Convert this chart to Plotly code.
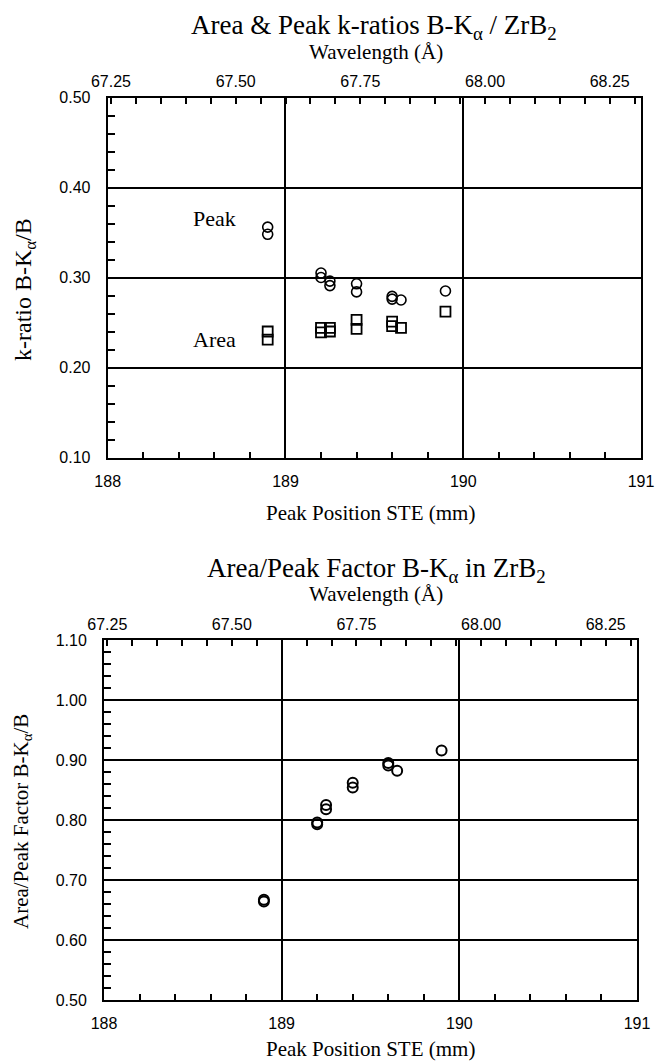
import plotly.graph_objects as go

# ---------------- data ----------------
peak_x = [188.9, 188.9, 189.2, 189.2, 189.25, 189.25, 189.4, 189.4, 189.6, 189.6, 189.65, 189.9]
peak_k = [0.356, 0.348, 0.305, 0.300, 0.296, 0.291, 0.293, 0.284, 0.279, 0.276, 0.275, 0.285]

area_x = [188.9, 188.9, 189.2, 189.2, 189.25, 189.25, 189.4, 189.4, 189.6, 189.6, 189.65, 189.9]
area_k = [0.240, 0.231, 0.244, 0.239, 0.244, 0.240, 0.253, 0.243, 0.251, 0.246, 0.244, 0.262]

factor_x = [188.9, 188.9, 189.2, 189.2, 189.25, 189.25, 189.4, 189.4, 189.6, 189.6, 189.65, 189.9]
factor_v = [0.667, 0.664, 0.796, 0.793, 0.825, 0.818, 0.862, 0.854, 0.895, 0.891, 0.882, 0.916]

ste_ticks = [188, 189, 190, 191]
ste_range = [188, 191]
wl_ticks = [67.25, 67.50, 67.75, 68.00, 68.25]
wl_range = [67.2434, 68.3128]
k_ticks = [0.10, 0.20, 0.30, 0.40, 0.50]
k_range = [0.10, 0.50]
f_ticks = [0.50, 0.60, 0.70, 0.80, 0.90, 1.00, 1.10]
f_range = [0.50, 1.10]

# ---------------- layout geometry (pixels) ----------------
W, H = 659, 1062
def px(x):
    return x / W
def py(y):
    return 1 - y / H

top_dom_x = [px(107.7), px(641)]
top_dom_y = [py(457.5), py(97.5)]
bot_dom_x = [px(104), px(637)]
bot_dom_y = [py(1000), py(640)]

tick_font = dict(family="Liberation Sans, Arial, sans-serif", size=16, color="black")
serif = "Liberation Serif, Times New Roman, serif"

fig = go.Figure()

mk_circle = dict(symbol="circle-open", size=10, color="black", line=dict(width=1.6, color="black"))
mk_square = dict(symbol="square-open", size=10, color="black", line=dict(width=1.8, color="black"))

fig.add_trace(go.Scatter(x=peak_x, y=peak_k, mode="markers", marker=mk_circle,
                         xaxis="x", yaxis="y", name="Peak", showlegend=False))
fig.add_trace(go.Scatter(x=area_x, y=area_k, mode="markers", marker=mk_square,
                         xaxis="x", yaxis="y", name="Area", showlegend=False))
# wavelength axes carriers
fig.add_trace(go.Scatter(x=wl_ticks, y=[None] * len(wl_ticks), mode="markers",
                         xaxis="x2", yaxis="y", showlegend=False, hoverinfo="skip"))
fig.add_trace(go.Scatter(x=factor_x, y=factor_v, mode="markers",
                         marker=dict(symbol="circle-open", size=10, color="black",
                                     line=dict(width=2, color="black")),
                         xaxis="x3", yaxis="y3", name="Area/Peak", showlegend=False))
fig.add_trace(go.Scatter(x=wl_ticks, y=[None] * len(wl_ticks), mode="markers",
                         xaxis="x4", yaxis="y3", showlegend=False, hoverinfo="skip"))

def ste_axis(dom, anchor):
    return dict(domain=dom, anchor=anchor, range=ste_range, tickvals=ste_ticks,
                ticktext=[str(v) for v in ste_ticks], ticks="inside", ticklen=6,
                tickwidth=1.5, tickcolor="black", tickfont=tick_font,
                showline=True, linecolor="black", linewidth=2, mirror=True,
                showgrid=True, gridcolor="black", gridwidth=1.5, zeroline=False,
                ticklabelstandoff=8, automargin=False,
                minor=dict(dtick=0.2, ticks="inside", ticklen=6, tickwidth=1.5,
                           tickcolor="black", showgrid=False))

def wl_axis(over, anchor):
    return dict(overlaying=over, anchor=anchor, side="top", range=wl_range,
                tickvals=wl_ticks, ticktext=["%.2f" % v for v in wl_ticks],
                ticks="inside", ticklen=6, tickwidth=1.5, tickcolor="black",
                tickfont=tick_font, showline=False, showgrid=False, zeroline=False,
                ticklabelstandoff=6, automargin=False,
                minor=dict(dtick=0.05, ticks="inside", ticklen=6, tickwidth=1.5,
                           tickcolor="black", showgrid=False))

def val_axis(dom, anchor, rng, tv, mdt):
    return dict(domain=dom, anchor=anchor, range=rng, tickvals=tv,
                ticktext=["%.2f" % v for v in tv], ticks="inside", ticklen=7,
                tickwidth=1.5, tickcolor="black", tickfont=tick_font,
                showline=True, linecolor="black", linewidth=2, mirror=True,
                showgrid=True, gridcolor="black", gridwidth=1.5, zeroline=False,
                ticklabelstandoff=12, automargin=False,
                minor=dict(dtick=mdt, ticks="inside", ticklen=7, tickwidth=1.5,
                           tickcolor="black", showgrid=False))

fig.update_layout(
    template="none",
    width=W, height=H,
    margin=dict(l=0, r=0, t=0, b=0, pad=0, autoexpand=False),
    paper_bgcolor="white", plot_bgcolor="white",
    showlegend=False,
    xaxis=ste_axis(top_dom_x, "y"),
    xaxis2=wl_axis("x", "y"),
    yaxis=val_axis(top_dom_y, "x", k_range, k_ticks, 0.02),
    xaxis3=ste_axis(bot_dom_x, "y3"),
    xaxis4=wl_axis("x3", "y3"),
    yaxis3=val_axis(bot_dom_y, "x3", f_range, f_ticks, 0.02),
)

def ann(text, x, y, size, angle=0, xanchor="center", xref="paper", yref="paper"):
    fig.add_annotation(text=text, x=x, y=y, xref=xref, yref=yref, showarrow=False,
                       font=dict(family=serif, size=size, color="black"),
                       textangle=angle, xanchor=xanchor, yanchor="middle")

# top chart titles
ann("Area &amp; Peak k-ratios B-K<sub>α</sub> / ZrB<sub>2</sub>", px(374), py(27), 27)
ann("Wavelength (Å)", px(376), py(52), 21)
ann("Peak Position STE (mm)", px(370), py(513), 21)
ann("k-ratio B-K<sub>α</sub>/B", px(25), py(290), 24, angle=-90)
ann("Peak", 188.47, 0.366, 22, xanchor="left", xref="x", yref="y")
ann("Area", 188.47, 0.231, 22, xanchor="left", xref="x", yref="y")

# bottom chart titles
ann("Area/Peak Factor B-K<sub>α</sub> in ZrB<sub>2</sub>", px(376), py(570), 27)
ann("Wavelength (Å)", px(376), py(594), 21)
ann("Peak Position STE (mm)", px(370), py(1049), 21)
ann("Area/Peak Factor B-K<sub>α</sub>/B", px(22), py(822), 21, angle=-90)

fig.write_html(
    "out.html",
    config={"displayModeBar": False},
    post_script="document.body.style.margin='0px';document.body.style.padding='0px';"
                "document.documentElement.style.overflow='hidden';",
)
